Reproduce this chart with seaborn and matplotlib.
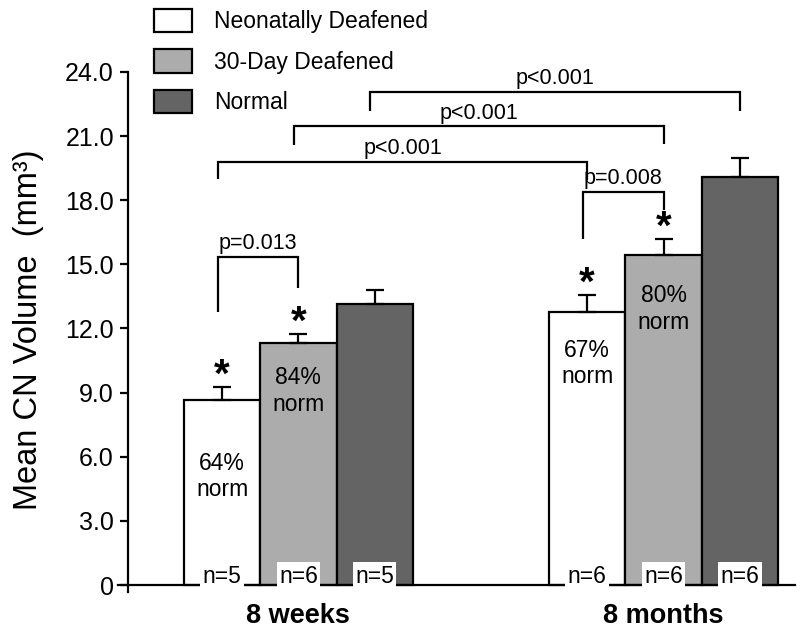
import pandas as pd
import seaborn as sns
import matplotlib.pyplot as plt

# data
ages = ["8 weeks", "8 months"]
groups = ["Neonatally Deafened", "30-Day Deafened", "Normal"]
volume_8wk = [8.65, 11.31, 13.15]
volume_8mo = [12.79, 15.44, 19.09]
sem_8wk = [0.61, 0.43, 0.65]
sem_8mo = [0.78, 0.73, 0.89]
n_8wk = ["n=5", "n=6", "n=5"]
n_8mo = ["n=6", "n=6", "n=6"]
pct_labels = {(0, 0): "64%\nnorm", (0, 1): "84%\nnorm", (1, 0): "67%\nnorm", (1, 1): "80%\nnorm"}
starred = [(0, 0), (0, 1), (1, 0), (1, 1)]
p_labels = ["p=0.013", "p=0.008", "p<0.001", "p<0.001", "p<0.001"]

df = pd.DataFrame({
    "age": [a for a in ages for _ in groups],
    "group": groups * 2,
    "volume": volume_8wk + volume_8mo,
    "err": sem_8wk + sem_8mo,
    "n": n_8wk + n_8mo,
})

sns.set_style("white")
plt.rcParams["font.family"] = ["Liberation Sans", "DejaVu Sans"]
plt.rcParams.update({"text.color": "black", "axes.labelcolor": "black",
                     "xtick.color": "black", "ytick.color": "black"})

colors = ["#ffffff", "#acacac", "#646464"]

fig = plt.figure(figsize=(8, 6.33), dpi=100)
ax = fig.add_axes([0.1475, 0.064, 0.84625, 0.8223])

sns.barplot(data=df, x="age", y="volume", hue="group", hue_order=groups,
            palette=colors, edgecolor="black", linewidth=1.6, width=0.627,
            errorbar=None, legend=False, saturation=1, ax=ax)

# bar centres from the drawn patches
centers = {}
for h, cont in enumerate(ax.containers):
    for g, bar in enumerate(cont):
        centers[(g, h)] = bar.get_x() + bar.get_width() / 2

for g, age in enumerate(ages):
    for h, grp in enumerate(groups):
        row = df[(df.age == age) & (df.group == grp)].iloc[0]
        x = centers[(g, h)]
        ax.errorbar(x, row["volume"], yerr=[[0], [row["err"]]], fmt="none",
                    ecolor="black", elinewidth=1.6, capsize=6.5, capthick=1.6, zorder=1)
        ax.text(x, 0.42, row["n"], ha="center", va="center", fontsize=16.5,
                bbox=dict(boxstyle="square,pad=0.1", fc="white", ec="none"))
        if (g, h) in starred:
            ax.text(x, row["volume"] + row["err"] + 0.02, "*", ha="center", va="baseline",
                    fontsize=29, fontweight="bold")

pct_drop = {(0, 0): 3.57, (0, 1): 2.23, (1, 0): 2.43, (1, 1): 2.53}
for key, lab in pct_labels.items():
    g, h = key
    top = df["volume"].iloc[g * 3 + h]
    ax.text(centers[key], top - pct_drop[key], lab, ha="center", va="center",
            fontsize=16.5, linespacing=1.2)

# significance brackets: (left bar, right bar, line y, left leg end, right leg end)
bracket_layout = [
    ((0, 0), (0, 1), 15.35, 12.77, 13.90),
    ((1, 0), (1, 1), 18.39, 16.19, 17.54),
    ((0, 0), (1, 0), 19.81, 19.00, 18.95),
    ((0, 1), (1, 1), 21.45, 20.58, 20.63),
    ((0, 2), (1, 2), 23.06, 22.17, 22.17),
]
for (a, b, yl, y1, y2), lab in zip(bracket_layout, p_labels):
    x1, x2 = centers[a] - 0.012, centers[b]
    ax.plot([x1, x1, x2, x2], [y1, yl, yl, y2], color="black", lw=1.6,
            solid_capstyle="butt", solid_joinstyle="miter", clip_on=False)
    ax.text((x1 + x2) / 2, yl + 0.62, lab, ha="center", va="center", fontsize=15.5)

ax.set_xlim(-0.494, 1.36)
ax.set_ylim(-0.35, 24)
ax.spines["left"].set_position(("data", -0.467))
ax.spines["bottom"].set_position(("data", 0))
for s in ["left", "bottom"]:
    ax.spines[s].set_linewidth(1.6)
    ax.spines[s].set_color("black")
ax.spines["top"].set_visible(False)
ax.spines["right"].set_visible(False)

yt = [0, 3, 6, 9, 12, 15, 18, 21, 24]
ax.set_yticks(yt)
ax.set_yticklabels(["0"] + [f"{v:.1f}" for v in yt[1:]])
ax.tick_params(axis="y", direction="out", length=6, width=1.6, labelsize=18, pad=4, left=True)
ax.tick_params(axis="x", length=0, labelsize=19.5, pad=13)
for t in ax.get_xticklabels():
    t.set_fontweight("bold")

ax.set_xlabel("")
ax.set_ylabel("Mean CN Volume  (mm³)", fontsize=23.5)
ax.yaxis.set_label_coords(-0.11, 0.505)

handles = [plt.Rectangle((0, 0), 1, 1, fc=c, ec="black", lw=1.6) for c in colors]
fig.legend(handles, groups, loc="upper left", bbox_to_anchor=(0.193, 0.986),
           frameon=False, fontsize=16.5, handlelength=1.65, handleheight=1.2,
           labelspacing=0.7, handletextpad=0.95, borderpad=0, borderaxespad=0)

plt.savefig("out.png", dpi=100)
